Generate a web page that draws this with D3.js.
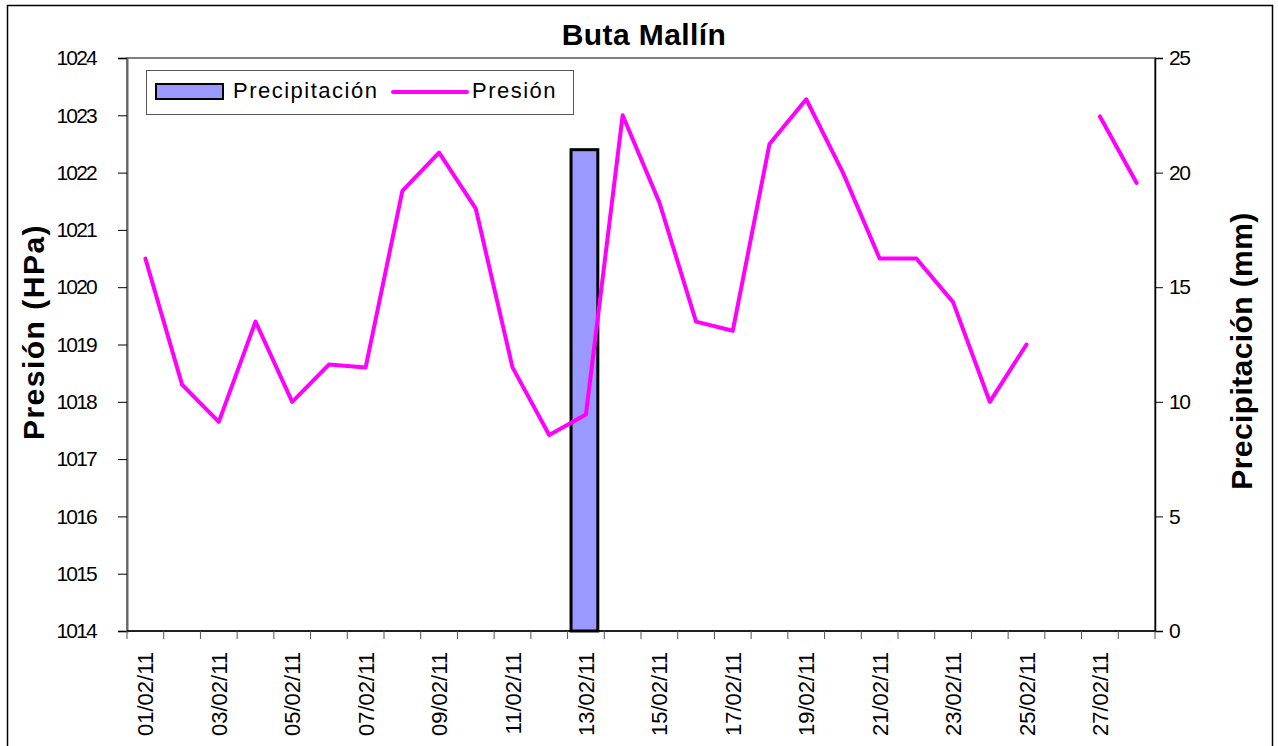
<!DOCTYPE html>
<html>
<head>
<meta charset="utf-8">
<script src="https://cdn.jsdelivr.net/npm/d3@7"></script>
<style>
  body { margin: 0; background: #fff; }
  text { font-family: "Liberation Sans", Arial, sans-serif; }
</style>
</head>
<body>
<div id="chart"></div>
<script>
// data
var days = ["01/02/11","02/02/11","03/02/11","04/02/11","05/02/11","06/02/11","07/02/11",
  "08/02/11","09/02/11","10/02/11","11/02/11","12/02/11","13/02/11","14/02/11",
  "15/02/11","16/02/11","17/02/11","18/02/11","19/02/11","20/02/11","21/02/11",
  "22/02/11","23/02/11","24/02/11","25/02/11","26/02/11","27/02/11","28/02/11"];
var presion = [1020.5, 1018.3, 1017.65, 1019.4, 1018.0, 1018.65, 1018.6,
  1021.68, 1022.35, 1021.37, 1018.6, 1017.42, 1017.78, 1023.0,
  1021.48, 1019.4, 1019.24, 1022.5, 1023.28, 1022.0, 1020.5,
  1020.5, 1019.74, 1018.0, 1019.0, null, 1022.98, 1021.82];
var precipitacion = [0, 0, 0, 0, 0, 0, 0, 0, 0, 0, 0, 0, 21, 0,
  0, 0, 0, 0, 0, 0, 0, 0, 0, 0, 0, 0, 0, 0];
var presionTicks = [1014, 1015, 1016, 1017, 1018, 1019, 1020, 1021, 1022, 1023, 1024];
var precipTicks = [0, 5, 10, 15, 20, 25];

var W = 1278, H = 746;
var margin = { top: 58, right: 123, bottom: 115, left: 127 },
  width = W - margin.left - margin.right,
  height = H - margin.top - margin.bottom;

var svg = d3.select("#chart").append("svg")
  .attr("width", W).attr("height", H);

// outer chart border
svg.append("rect")
  .attr("x", 7.5).attr("y", 5.5)
  .attr("width", 1265).attr("height", 750)
  .attr("fill", "none").attr("stroke", "#000").attr("stroke-width", 1.5);

var g = svg.append("g")
  .attr("transform", "translate(" + margin.left + "," + margin.top + ")");

var x = d3.scaleBand().domain(days).range([0, width]).paddingInner(0).paddingOuter(0);
var yL = d3.scaleLinear().domain([1014, 1024]).range([height, 0]);
var yR = d3.scaleLinear().domain([0, 25]).range([height, 0]);

// plot area border
g.append("rect")
  .attr("x", 0).attr("y", 0)
  .attr("width", width).attr("height", height)
  .attr("fill", "#fff").attr("stroke", "#808080").attr("stroke-width", 2);

// bars
var barW = x.bandwidth() * 0.73;
g.selectAll(".bar")
  .data(days.map(function (d, i) { return { day: d, v: precipitacion[i] }; })
    .filter(function (d) { return d.v > 0; }))
  .enter().append("rect")
  .attr("class", "bar")
  .attr("x", function (d) { return x(d.day) + (x.bandwidth() - barW) / 2 - 1.5; })
  .attr("y", function (d) { return yR(d.v); })
  .attr("width", barW)
  .attr("height", function (d) { return height - yR(d.v); })
  .attr("fill", "#9999ff")
  .attr("stroke", "#000").attr("stroke-width", 3);

// pressure line
var line = d3.line()
  .defined(function (d) { return d.v != null; })
  .x(function (d) { return x(d.day) + x.bandwidth() / 2; })
  .y(function (d) { return yL(d.v); });
g.append("path")
  .datum(days.map(function (d, i) { return { day: d, v: presion[i] }; }))
  .attr("d", line)
  .attr("fill", "none")
  .attr("stroke", "#ff00ff")
  .attr("stroke-width", 4)
  .attr("stroke-linejoin", "round")
  .attr("stroke-linecap", "round");

// left axis
var axL = g.append("g")
  .call(d3.axisLeft(yL).tickValues(presionTicks).tickFormat(d3.format("d")).tickSize(9).tickPadding(22));
axL.select(".domain").attr("stroke", "#666").attr("stroke-width", 2);
axL.selectAll(".tick line").attr("stroke", "#000");
axL.selectAll(".tick text").style("font-size", "21px").attr("fill", "#000").attr("letter-spacing", "-1.8px");

// right axis
var axR = g.append("g")
  .attr("transform", "translate(" + width + ",0)")
  .call(d3.axisRight(yR).tickValues(precipTicks).tickSize(8).tickPadding(6));
axR.select(".domain").attr("stroke", "#000").attr("stroke-width", 1.5);
axR.selectAll(".tick line").attr("stroke", "#000");
axR.selectAll(".tick text").style("font-size", "21px").attr("fill", "#000").attr("letter-spacing", "-1.5px");

// bottom axis: ticks at band edges
var axB = g.append("g").attr("transform", "translate(0," + height + ")");
axB.append("line")
  .attr("x1", 0).attr("x2", width).attr("y1", 0).attr("y2", 0)
  .attr("stroke", "#000").attr("stroke-width", 1.5);
axB.selectAll(".edge")
  .data(days.concat(["end"]))
  .enter().append("line")
  .attr("x1", function (d, i) { return i * x.step(); })
  .attr("x2", function (d, i) { return i * x.step(); })
  .attr("y1", 0).attr("y2", 8)
  .attr("stroke", "#555");
axB.selectAll(".lbl")
  .data(days.filter(function (d, i) { return i % 2 === 0; }))
  .enter().append("text")
  .attr("transform", function (d) {
    return "translate(" + (x(d) + x.bandwidth() / 2 + 8) + ",21)rotate(-90)";
  })
  .attr("text-anchor", "end")
  .style("font-size", "22px")
  .text(function (d) { return d; });

// title
svg.append("text")
  .attr("x", 644).attr("y", 45)
  .attr("text-anchor", "middle")
  .style("font-size", "30px").style("font-weight", "bold")
  .attr("letter-spacing", "0.4px")
  .text("Buta Mallín");

// axis titles
svg.append("text")
  .attr("transform", "translate(44,332)rotate(-90)")
  .attr("text-anchor", "middle")
  .style("font-size", "30px").style("font-weight", "bold")
  .attr("letter-spacing", "1.5px")
  .text("Presión (HPa)");
svg.append("text")
  .attr("transform", "translate(1252,351)rotate(-90)")
  .attr("text-anchor", "middle")
  .style("font-size", "30px").style("font-weight", "bold")
  .attr("letter-spacing", "0.4px")
  .text("Precipitación (mm)");

// legend
var leg = svg.append("g").attr("transform", "translate(146,70)");
leg.append("rect")
  .attr("x", 0.5).attr("y", 0.5).attr("width", 427).attr("height", 44)
  .attr("fill", "#fff").attr("stroke", "#555").attr("stroke-width", 1);
leg.append("rect")
  .attr("x", 10).attr("y", 14).attr("width", 67).attr("height", 15)
  .attr("fill", "#9999ff").attr("stroke", "#000").attr("stroke-width", 2);
leg.append("text")
  .attr("x", 87).attr("y", 28)
  .style("font-size", "22px").attr("letter-spacing", "1.5px")
  .text("Precipitación");
leg.append("line")
  .attr("x1", 247).attr("x2", 321).attr("y1", 22).attr("y2", 22)
  .attr("stroke", "#ff00ff").attr("stroke-width", 4).attr("stroke-linecap", "round");
leg.append("text")
  .attr("x", 326).attr("y", 28)
  .style("font-size", "22px").attr("letter-spacing", "1.5px")
  .text("Presión");
</script>
</body>
</html>
